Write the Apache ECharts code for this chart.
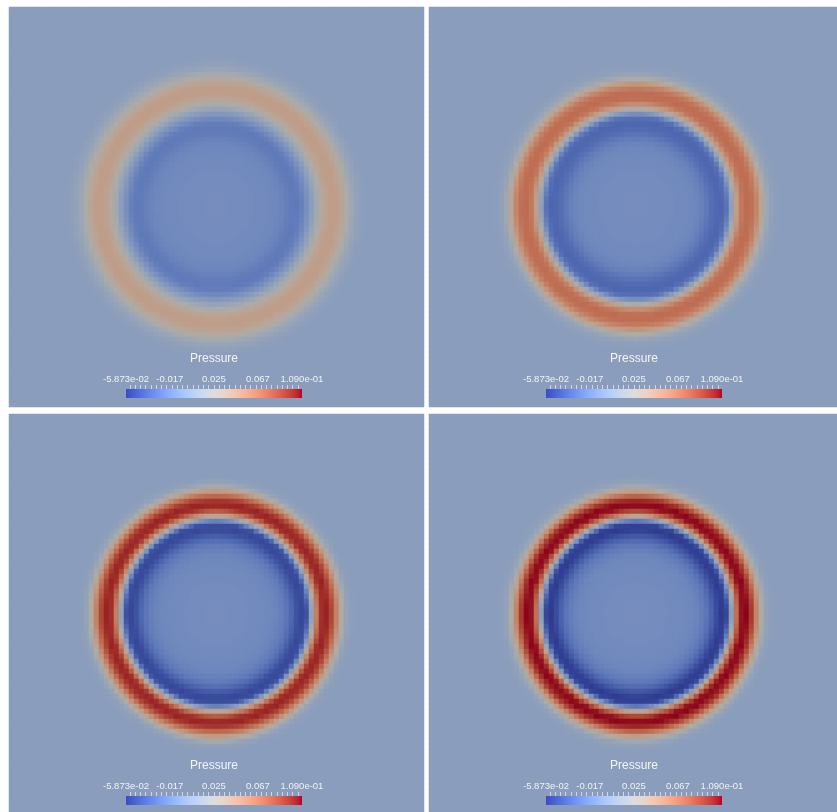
<!DOCTYPE html>
<html>
<head>
<meta charset="utf-8">
<script src="https://cdn.jsdelivr.net/npm/echarts@6/dist/echarts.min.js"></script>
<style>
  html, body { margin: 0; padding: 0; background: #ffffff; overflow: hidden; }
  #chart { width: 846px; height: 816px; }
</style>
</head>
<body>
<div id="chart"></div>
<script>
// Scalar range and scale-bar labels
const pressureMin = -0.05873;
const pressureMax = 0.109;
const scaleLabelValues = [-0.05873, -0.017, 0.025, 0.067, 0.109];
const scaleLabelTexts = ['-5.873e-02', '-0.017', '0.025', '0.067', '1.090e-01'];

// Radial pressure profiles: one value per cell width (5 px) from the centre outward.
// Radii past the end of a profile hold the ambient pressure.
const ambientPressure = 0.0;
const profileStep1 = [
  -0.013, -0.013, -0.013, -0.013, -0.014, -0.014, -0.014, -0.014, -0.015, -0.015,
  -0.015, -0.016, -0.017, -0.019, -0.022, -0.025, -0.026, -0.022, -0.012, 0.000,
  0.014, 0.028, 0.038, 0.042, 0.042, 0.035, 0.024, 0.013, 0.006, 0.002
];
const profileStep2 = [
  -0.013, -0.013, -0.013, -0.013, -0.014, -0.014, -0.014, -0.014, -0.015, -0.015,
  -0.015, -0.016, -0.018, -0.021, -0.026, -0.032, -0.036, -0.037, -0.030, 0.002,
  0.040, 0.066, 0.073, 0.071, 0.060, 0.036, 0.013, 0.004, 0.001
];
const profileStep3 = [
  -0.013, -0.013, -0.013, -0.013, -0.014, -0.014, -0.014, -0.015, -0.015, -0.015,
  -0.016, -0.017, -0.019, -0.022, -0.027, -0.036, -0.047, -0.053, -0.048, 0.004,
  0.062, 0.098, 0.103, 0.090, 0.062, 0.028, 0.007, 0.001
];
const profileStep4 = [
  -0.013, -0.013, -0.013, -0.013, -0.014, -0.014, -0.014, -0.015, -0.015, -0.015,
  -0.016, -0.017, -0.019, -0.023, -0.028, -0.038, -0.050, -0.05873, -0.054, 0.000,
  0.070, 0.106, 0.109, 0.095, 0.060, 0.025, 0.006, 0.001
];
const profiles = [profileStep1, profileStep2, profileStep3, profileStep4];

// Cool-to-warm diverging colour map (33 stops)
const coolWarm = [
  [59,76,192],[68,90,204],[77,104,215],[87,117,225],[98,130,234],[108,142,241],
  [119,154,247],[130,165,251],[141,176,254],[152,185,255],[163,194,255],[174,201,253],
  [184,208,249],[194,213,244],[204,217,238],[213,219,230],[221,221,221],[229,216,209],
  [236,211,197],[241,204,185],[245,196,173],[247,187,160],[247,177,148],[247,166,135],
  [244,154,123],[241,141,111],[236,127,99],[229,112,88],[222,96,77],[213,80,66],
  [203,62,56],[192,40,47],[180,4,38]
];
// diffuse lighting on the rendered surface
const shade = [0.79, 0.775, 0.745];

const rgb = c => 'rgb(' + c.map(Math.round).join(',') + ')';
const surfaceColors = coolWarm.map(c => rgb(c.map((v, i) => v * shade[i])));
const barGradient = {
  type: 'linear', x: 0, y: 0, x2: 1, y2: 0,
  colorStops: coolWarm.map((c, i) => ({ offset: i / (coolWarm.length - 1), color: rgb(c) }))
};

// Mesh: square 5-px cells, domain centre
const nCols = 83, nRows = 80;
const centreCol = 41, centreRow = 39.5;
const colCats = Array.from({ length: nCols }, (_, i) => i);
const rowCats = Array.from({ length: nRows }, (_, i) => i);

// pressure on the profile at radius r (in cell widths)
function profileAt(profile, r) {
  const at = k => (k < profile.length ? profile[k] : ambientPressure);
  const k0 = Math.floor(r), f = r - k0;
  return at(k0) * (1 - f) + at(k0 + 1) * f;
}

function cellData(profile) {
  const out = [];
  for (let i = 0; i < nCols; i++) {
    for (let j = 0; j < nRows; j++) {
      out.push([i, j, profileAt(profile, Math.hypot(i - centreCol, j - centreRow))]);
    }
  }
  return out;
}

// Scale-bar tick marks every 0.005
const minorTicks = [];
for (let k = Math.ceil(pressureMin / 0.005); k * 0.005 <= pressureMax + 1e-9; k++) {
  minorTicks.push(+(k * 0.005).toFixed(3));
}

const panels = [
  { left: 9, top: 7 }, { left: 429, top: 7 },
  { left: 9, top: 414 }, { left: 429, top: 414 }
];

const grids = [], xAxes = [], yAxes = [], series = [], titles = [];
panels.forEach((p, n) => {
  grids.push({ left: p.left, top: p.top, width: nCols * 5, height: nRows * 5, containLabel: false });
  xAxes.push({ type: 'category', gridIndex: n, data: colCats, show: false });
  yAxes.push({ type: 'category', gridIndex: n, data: rowCats, show: false, inverse: true });
  series.push({
    type: 'heatmap', xAxisIndex: n, yAxisIndex: n,
    data: cellData(profiles[n]),
    progressive: 0, progressiveThreshold: 1e6,
    itemStyle: { borderWidth: 0 },
    emphasis: { disabled: true }
  });
});

const tickColor = 'rgba(222,226,234,0.85)';
panels.forEach((p, n) => {
  const gi = grids.length;
  grids.push({
    left: p.left + 117, top: p.top + 382, width: 176, height: 9, z: 10,
    show: true, backgroundColor: barGradient, borderWidth: 0
  });
  yAxes.push({ type: 'value', gridIndex: gi, show: false, min: 0, max: 1 });
  xAxes.push({
    type: 'value', gridIndex: gi, position: 'top', min: pressureMin, max: pressureMax, z: 10,
    axisLine: { show: false, onZero: false }, splitLine: { show: false },
    axisTick: { show: true, inside: false, customValues: minorTicks, length: 4, lineStyle: { color: tickColor, width: 1 } },
    axisLabel: {
      show: true, customValues: scaleLabelValues, margin: 5,
      color: '#f2f3f6', fontSize: 9.5, fontFamily: 'Liberation Sans, Arial, sans-serif',
      showMinLabel: true, showMaxLabel: true, hideOverlap: false,
      formatter: v => {
        let best = 0;
        scaleLabelValues.forEach((s, i) => { if (Math.abs(s - v) < Math.abs(scaleLabelValues[best] - v)) best = i; });
        return scaleLabelTexts[best];
      }
    }
  });
  titles.push({
    text: 'Pressure', left: p.left + 205, top: p.top + 346, textAlign: 'center', padding: 0, z: 12,
    textStyle: { color: '#f4f5f8', fontSize: 12, fontWeight: 'normal', fontFamily: 'Liberation Sans, Arial, sans-serif' }
  });
});

const chart = echarts.init(document.getElementById('chart'), null, { renderer: 'canvas' });
chart.setOption({
  animation: false,
  backgroundColor: '#ffffff',
  title: titles,
  grid: grids,
  xAxis: xAxes,
  yAxis: yAxes,
  visualMap: {
    type: 'continuous', show: false, seriesIndex: [0, 1, 2, 3],
    min: pressureMin, max: pressureMax, dimension: 2,
    inRange: { color: surfaceColors }
  },
  series: series
});
</script>
</body>
</html>
